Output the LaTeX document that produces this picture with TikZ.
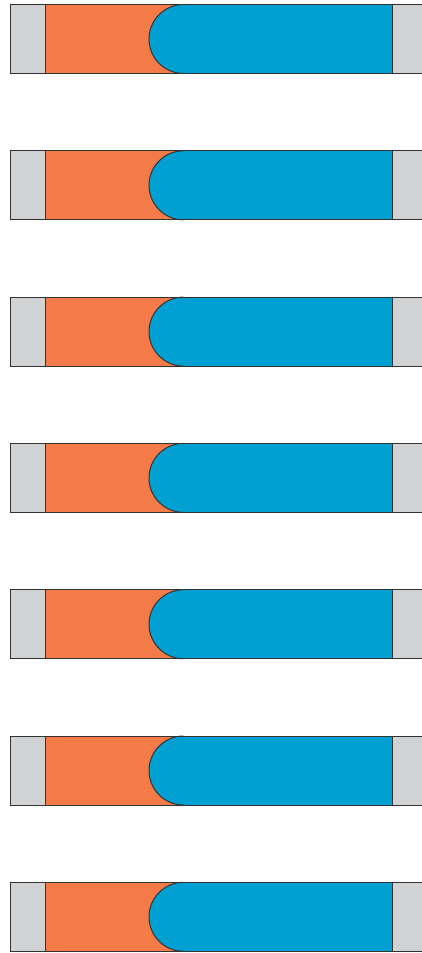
\documentclass[tikz,border=0pt]{standalone}
\begin{document}
\begin{tikzpicture}[x=1pt,y=-1pt,
  edge/.style={draw=black!80,line width=1pt},
  greyfill/.style={fill=lgrey},
  orangefill/.style={fill=lorange},
  bluefill/.style={fill=lblue}]
\definecolor{lgrey}{HTML}{D1D2D4}
\definecolor{lorange}{HTML}{F47B48}
\definecolor{lblue}{HTML}{00A0D2}
\useasboundingbox (0,0) rectangle (422,953);
\clip (0,0) rectangle (422,953);
\foreach \i in {0,...,6}{
  \pgfmathsetmacro{\t}{4.5+146.3*\i}
  \pgfmathsetmacro{\b}{\t+69}
  \coordinate (tl\i) at (10,\t);
  \coordinate (br\i) at (423,\b);
  \fill[greyfill] (10,\t) rectangle (45.5,\b);
  \fill[orangefill] (45.5,\t) rectangle (184,\b);
  \fill[bluefill] (183.5,\t) arc[start angle=270,end angle=90,radius=34.5] -- (392,\b) -- (392,\t) -- cycle;
  \fill[greyfill] (392,\t) rectangle (423,\b);
  \draw[edge] (423,\t) -- (10,\t) -- (10,\b) -- (423,\b);
  \draw[edge] (45.5,\t) -- (45.5,\b);
  \draw[edge] (392,\t) -- (392,\b);
  \draw[edge] (183.5,\t) arc[start angle=270,end angle=90,radius=34.5];
}
\end{tikzpicture}
\end{document}
